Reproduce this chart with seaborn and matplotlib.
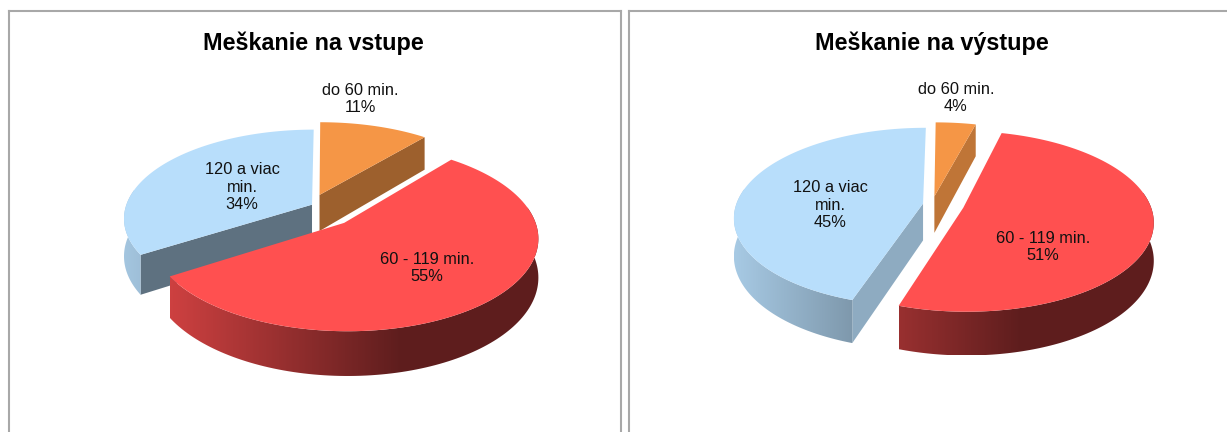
import numpy as np
import matplotlib
matplotlib.use("Agg")
import matplotlib.pyplot as plt
from matplotlib.patches import Polygon
import seaborn as sns

# Delay shares per delay class, clockwise from twelve o'clock
titles = ["Meškanie na vstupe", "Meškanie na výstupe"]
categories = ["do 60 min.", "60 - 119 min.", "120 a viac min."]
label_lines = ["do 60 min.", "60 - 119 min.", "120 a viac\nmin."]
entry_share = [11, 55, 34]
exit_share = [4, 51, 45]

sns.set_theme(style="white")
plt.rcParams["font.family"] = ["Liberation Sans", "DejaVu Sans"]
slice_colors = sns.color_palette(["#F59646", "#FF5050", "#B8DEFB"])

W, H = 1227, 432
DPI = 100

# Projection of the tilted disc
RX, RY, PERSP, DEPTH = 187.0, 87.5, 0.15, 37.0

panels = [
    dict(values=entry_share, title=titles[0], rect=(8.5, 10.5, 620.5, 450), title_xy=(313, 43),
         centre=(325, 209),
         offsets=[(-0.03, 0.165), (0.10, -0.155), (-0.07, 0.05)],
         cut_shade=[0.64, 0.6, 0.51],
         label_xy=[(360, 99), (427, 268), (242, 187)]),
    dict(values=exit_share, title=titles[1], rect=(628.5, 10.5, 1240, 450), title_xy=(932, 43),
         centre=(944.5, 205),
         offsets=[(-0.055, 0.10), (0.10, -0.031), (-0.115, 0.017)],
         cut_shade=[0.78, 0.6, 0.77],
         label_xy=[(956, 98), (1043, 247), (830, 205)]),
]


def project(theta_deg, radius, offset, centre, lift=0.0):
    """Disc point at a clockwise angle from the top, mapped to pixel space."""
    t = np.radians(theta_deg)
    X = offset[0] + radius * np.sin(t)
    Y = offset[1] + radius * np.cos(t)
    s = 1.0 / (1.0 + PERSP * Y)
    return centre[0] + RX * X * s, centre[1] - RY * Y * s + lift * DEPTH * s


def rim_shade(rel_x):
    """Side walls darken from left to right."""
    return np.clip(0.37 + (75.0 - rel_x) * 0.00189, 0.37, 0.95)


def draw_slice(ax, start, end, color, offset, centre, cut_shade, z):
    color = np.array(color)
    # Cut wall facing the viewer
    cut_angle = None
    if 0 < end < 180:
        cut_angle = end
    elif 180 < start < 360:
        cut_angle = start
    if cut_angle is not None:
        pts = [project(cut_angle, 0, offset, centre), project(cut_angle, 1, offset, centre),
               project(cut_angle, 1, offset, centre, 1), project(cut_angle, 0, offset, centre, 1)]
        ax.add_patch(Polygon(pts, closed=True, fc=color * cut_shade, ec="none", zorder=z))

    # Curved outer wall on the near half, with a horizontal gradient
    lo, hi = max(start, 80.0), min(end, 280.0)
    if hi > lo:
        th = np.linspace(lo, hi, 120)
        top = np.array([project(a, 1, offset, centre) for a in th])
        bot = np.array([project(a, 1, offset, centre, 1) for a in th])
        wall = np.vstack([top, bot[::-1]])
        clip = Polygon(wall, closed=True, fc="none", ec="none", zorder=z + 0.1)
        ax.add_patch(clip)
        x0, x1 = wall[:, 0].min(), wall[:, 0].max()
        y0, y1 = wall[:, 1].min(), wall[:, 1].max()
        xs = np.linspace(x0, x1, 256)
        grad = (color[None, :] * rim_shade(xs - centre[0])[:, None])[None, :, :]
        im = ax.imshow(grad, extent=(x0, x1, y1, y0), aspect="auto", zorder=z + 0.2,
                       interpolation="bilinear")
        im.set_clip_path(clip)

    # Top face
    th = np.linspace(start, end, 120)
    face = [project(0, 0, offset, centre)] + [project(a, 1, offset, centre) for a in th]
    ax.add_patch(Polygon(face, closed=True, fc=color, ec="none", zorder=z + 0.5))


fig = plt.figure(figsize=(W / DPI, H / DPI), dpi=DPI, facecolor="white")
for p in panels:
    x0, y0, x1, y1 = p["rect"]
    ax = fig.add_axes([x0 / W, 1 - y1 / H, (x1 - x0) / W, (y1 - y0) / H], facecolor="white")
    for spine in ax.spines.values():
        spine.set_color("#A8A8A8")
        spine.set_linewidth(1.5)
    ax.set_xticks([])
    ax.set_yticks([])

    shares = np.array(p["values"], dtype=float)
    edges = np.concatenate([[0.0], np.cumsum(shares)]) / shares.sum() * 360.0
    # Back slice first so the large near slice overlaps the others
    for i in [0, 2, 1]:
        draw_slice(ax, edges[i], edges[i + 1], slice_colors[i], p["offsets"][i], p["centre"],
                   p["cut_shade"][i], z=2 + i * 2 if i != 1 else 8)

    for i, text in enumerate(label_lines):
        ax.text(*p["label_xy"][i], f"{text}\n{p['values'][i]}%", ha="center", va="center",
                fontsize=11.8, color="#111111", linespacing=1.2, zorder=20)
    ax.text(*p["title_xy"], p["title"], ha="center", va="center", fontsize=16.8,
            fontweight="bold", color="black", zorder=20)

    ax.set_xlim(x0, x1)
    ax.set_ylim(y1, y0)

fig.savefig("out.png", dpi=DPI, facecolor="white")
